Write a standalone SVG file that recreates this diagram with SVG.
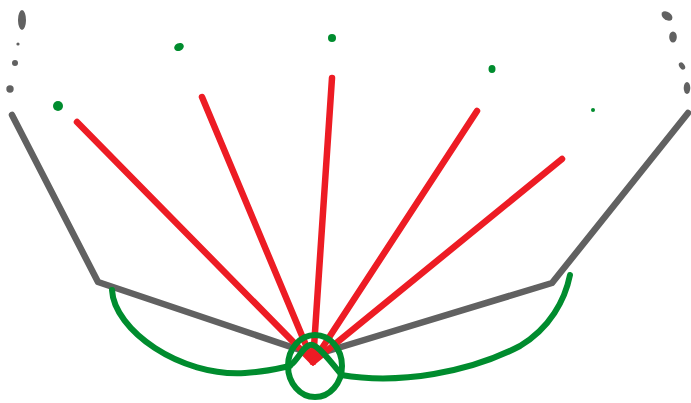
<svg xmlns="http://www.w3.org/2000/svg" width="691" height="403" viewBox="0 0 691 403">
<style>
.g{fill:none;stroke:#616161;stroke-width:6.5;stroke-linecap:round;stroke-linejoin:round}
.r{fill:none;stroke:#ed1c24;stroke-width:6.5;stroke-linecap:round}
.gr{fill:none;stroke:#008c2e;stroke-width:6;stroke-linecap:round;stroke-linejoin:round}
.dg{fill:#616161}
.dn{fill:#008c2e}
</style>
<rect width="691" height="403" fill="#fff"/>
<g id="gray">
<polyline class="g" points="12,115 98,282 315,355"/>
<polyline class="g" points="688,113 552,283 318,354"/>
</g>
<g id="red">
<line class="r" x1="77" y1="122" x2="313" y2="362"/>
<line class="r" x1="202" y1="97" x2="313" y2="362"/>
<line class="r" x1="332" y1="78" x2="313" y2="362"/>
<line class="r" x1="477" y1="111" x2="313" y2="362"/>
<line class="r" x1="562" y1="159" x2="313" y2="362"/>
</g>
<g id="green">
<path class="gr" d="M112,290 C114,330 180,377 245,373 C265,372 280,368 290,366"/>
<ellipse class="gr" cx="315" cy="366" rx="27" ry="31"/>
<path class="gr" d="M292,364 C300,356 304,346 310,345 C316,343 328,358 340,373"/>
<path class="gr" d="M341,375 C400,385 470,372 520,346 C550,328 565,300 570,275"/>
</g>
<g id="dots">
<ellipse class="dg" cx="22" cy="20" rx="4" ry="10"/>
<circle class="dg" cx="18" cy="44" r="1.6"/>
<circle class="dg" cx="15" cy="63" r="3"/>
<circle class="dg" cx="10" cy="89" r="3.7"/>
<ellipse class="dg" cx="667" cy="16" rx="6" ry="4" transform="rotate(35 667 16)"/>
<ellipse class="dg" cx="673" cy="37" rx="3.8" ry="5.5"/>
<ellipse class="dg" cx="682" cy="66" rx="2.6" ry="4" transform="rotate(-35 682 66)"/>
<ellipse class="dg" cx="687" cy="88" rx="3.3" ry="6"/>
<circle class="dn" cx="58" cy="106" r="5"/>
<ellipse class="dn" cx="179" cy="47" rx="5" ry="3.8" transform="rotate(-25 179 47)"/>
<circle class="dn" cx="332" cy="38" r="4"/>
<ellipse class="dn" cx="492" cy="69" rx="3.5" ry="4"/>
<circle class="dn" cx="593" cy="110" r="2"/>
</g>
</svg>
